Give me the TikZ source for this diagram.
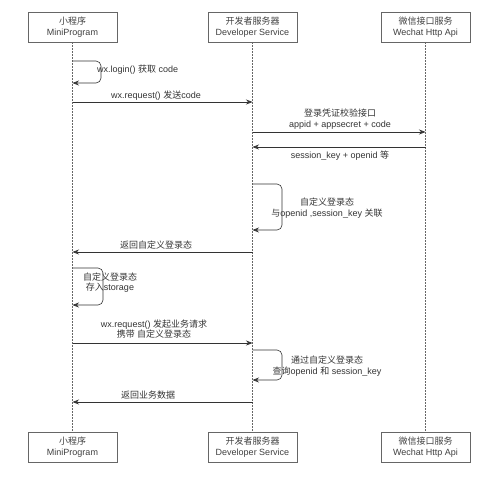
\documentclass[tikz,border=0pt]{standalone}
\usepackage{fontspec}
\setmainfont{Liberation Sans}
\newfontfamily\cjk{Noto Sans CJK SC}
\usetikzlibrary{arrows.meta,positioning}

\begin{document}
\begin{tikzpicture}[x=1pt,y=-1pt,
	actor/.style={draw=black!60,line width=0.8pt,minimum width=89pt,minimum height=30pt,inner sep=1pt,align=center,font=\fontsize{9}{10.5}\selectfont,text=black!75},
	life/.style={draw=black!60,dash pattern=on 1.5pt off 1.5pt},
	msg/.style={draw=black!80,line width=0.6pt,-{Stealth[length=6.5pt,width=5pt]}},
	loopmsg/.style={msg,rounded corners=5pt},
	lbl/.style={font=\fontsize{9}{10.5}\selectfont,align=center,text=black!80,inner sep=0pt}]
	\useasboundingbox (0,0) rectangle (500,483);
	% actors
	\node[actor] (mp) at (72.5,27) {{\cjk 小程序}\\MiniProgram};
	\node[actor] (dev) at (252.5,27) {{\cjk 开发者服务器}\\Developer Service};
	\node[actor] (wx) at (425.5,27) {{\cjk 微信接口服务}\\Wechat Http Api};
	\node[actor] (mpb) at (72.5,447) {{\cjk 小程序}\\MiniProgram};
	\node[actor] (devb) at (252.5,447) {{\cjk 开发者服务器}\\Developer Service};
	\node[actor] (wxb) at (425.5,447) {{\cjk 微信接口服务}\\Wechat Http Api};
	\draw[life] (mp) -- (mpb);
	\draw[life] (dev) -- (devb);
	\draw[life] (wx) -- (wxb);
	% points on the lifelines
	\coordinate (a1) at (72.5,61);   \coordinate (a2) at (72.5,83);
	\coordinate (b1) at (72.5,102);  \coordinate (b2) at (252.5,102);
	\coordinate (c1) at (252.5,132); \coordinate (c2) at (425.5,132);
	\coordinate (d1) at (425.5,147); \coordinate (d2) at (252.5,147);
	\coordinate (e1) at (252.5,184); \coordinate (e2) at (252.5,230);
	\coordinate (f1) at (252.5,252); \coordinate (f2) at (72.5,252);
	\coordinate (g1) at (72.5,268);  \coordinate (g2) at (72.5,305);
	\coordinate (h1) at (72.5,343);  \coordinate (h2) at (252.5,343);
	\coordinate (i1) at (252.5,350); \coordinate (i2) at (252.5,380);
	\coordinate (j1) at (252.5,402); \coordinate (j2) at (72.5,402);
	% messages
	\draw[loopmsg] (a1) -| (101,83) -- (a2);
	\draw[msg] (b1) -- (b2);
	\draw[msg] (c1) -- (c2);
	\draw[msg] (d1) -- (d2);
	\draw[loopmsg] (e1) -| (282,230) -- (e2);
	\draw[msg] (f1) -- (f2);
	\draw[loopmsg] (g1) -| (103,305) -- (g2);
	\draw[msg] (h1) -- (h2);
	\draw[loopmsg] (i1) -| (282,380) -- (i2);
	\draw[msg] (j1) -- (j2);
	% labels
	\node[lbl,anchor=west] (la) at (97,70) {wx.login() {\cjk 获取} code};
	\node[lbl] (lb) at (156,95.5) {wx.request() {\cjk 发送}code};
	\node[lbl] (lc) at (340,119) {{\cjk 登录凭证校验接口}\\appid + appsecret + code};
	\node[lbl] (ld) at (340,156) {session\_key + openid {\cjk 等}};
	\node[lbl] (le) at (327,208) {{\cjk 自定义登录态}\\{\cjk 与}openid ,session\_key {\cjk 关联}};
	\node[lbl] (lf) at (156,245.5) {\cjk 返回自定义登录态};
	\node[lbl] (lg) at (110,282.5) {{\cjk 自定义登录态}\\{\cjk 存入}storage};
	\node[lbl] (lh) at (154,329) {wx.request() {\cjk 发起业务请求}\\{\cjk 携带 自定义登录态}};
	\node[lbl] (li) at (327,366) {{\cjk 通过自定义登录态}\\{\cjk 查询}openid {\cjk 和} session\_key};
	\node[lbl] (lj) at (148,395.5) {\cjk 返回业务数据};
\end{tikzpicture}
\end{document}
